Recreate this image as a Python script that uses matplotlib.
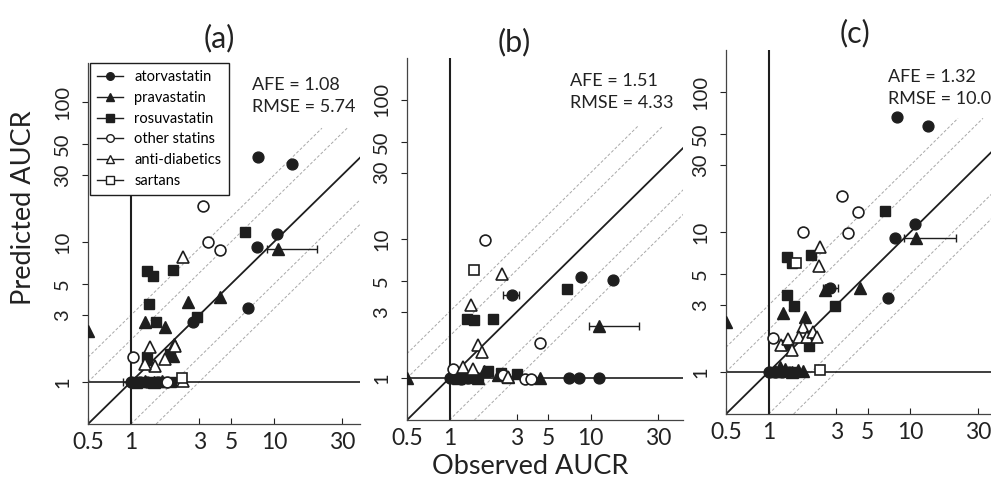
import matplotlib
import matplotlib.pyplot as plt
from matplotlib.lines import Line2D

matplotlib.use('Agg')

plt.rcParams['font.family'] = ['Lato', 'DejaVu Sans']

INK = '#1e1e1e'
W_PX, H_PX = 991, 480

# ---- panel (a) ----
a_ator_x = [7.7, 13.4, 10.5, 7.6, 6.6, 2.7, 1.0, 1.15, 1.3, 1.55]
a_ator_y = [40.5, 36.0, 11.4, 9.2, 3.4, 2.7, 1.0, 1.0, 0.99, 1.0]
a_prav_x = [0.5, 10.7, 4.2, 2.5, 1.25, 1.73, 2.0, 1.97, 1.29, 1.08, 1.25, 1.45, 1.65]
a_prav_y = [2.3, 8.9, 4.05, 3.7, 2.7, 2.47, 1.87, 1.53, 1.46, 1.0, 1.02, 1.0, 1.02]
a_rosu_x = [6.27, 1.30, 1.42, 1.97, 1.34, 1.5, 2.9, 1.87, 1.29, 1.05, 1.2, 1.4, 1.6, 1.9]
a_rosu_y = [11.8, 6.2, 5.7, 6.3, 3.6, 2.7, 2.9, 1.58, 1.5, 1.0, 1.0, 1.0, 1.0, 1.0]
a_other_x = [3.2, 3.45, 4.2, 1.03, 1.79]
a_other_y = [18.1, 10.0, 8.8, 1.5, 1.0]
a_anti_x = [2.31, 1.36, 2.03, 1.73, 1.47, 2.31, 1.25]
a_anti_y = [7.8, 1.78, 1.81, 1.46, 1.3, 1.02, 1.35]
a_sart_x = [2.27]
a_sart_y = [1.06]

# ---- panel (b) ----
b_ator_x = [2.75, 8.5, 14.3, 7.0, 8.2, 11.4, 1.0, 1.1, 1.2, 1.35]
b_ator_y = [3.95, 5.3, 5.1, 1.0, 1.0, 1.0, 1.0, 1.0, 0.99, 1.0]
b_prav_x = [0.5, 11.4, 4.4, 1.15, 1.3, 1.6, 1.75, 2.2, 2.6]
b_prav_y = [1.0, 2.37, 1.0, 1.0, 1.02, 1.0, 1.12, 1.05, 1.02]
b_rosu_x = [1.32, 1.50, 2.02, 6.75, 3.0, 1.86, 1.05, 1.25, 1.6, 2.3]
b_rosu_y = [2.66, 2.6, 2.66, 4.4, 1.07, 1.12, 1.0, 1.0, 1.0, 1.08]
b_other_x = [1.77, 4.4, 1.05, 2.4, 3.45, 3.75]
b_other_y = [9.8, 1.78, 1.16, 1.05, 0.98, 0.98]
b_anti_x = [2.34, 1.43, 1.58, 1.71, 1.24, 1.47, 2.6]
b_anti_y = [5.6, 3.35, 1.74, 1.54, 1.2, 1.16, 1.02]
b_sart_x = [1.50]
b_sart_y = [6.0]

# ---- panel (c) ----
c_ator_x = [8.1, 13.4, 10.8, 7.8, 6.9, 2.69, 1.0, 1.1, 1.25, 1.4]
c_ator_y = [66.0, 57.0, 11.4, 9.1, 3.4, 4.0, 1.0, 1.0, 1.0, 1.0]
c_prav_x = [0.5, 11.0, 2.48, 4.4, 1.27, 1.79, 2.07, 1.1, 1.2, 1.3, 1.45, 1.6, 1.75]
c_prav_y = [2.27, 9.1, 3.85, 4.0, 2.64, 2.47, 1.9, 1.02, 1.08, 1.05, 1.0, 1.04, 1.02]
c_rosu_x = [6.6, 1.34, 1.45, 1.98, 1.34, 1.52, 2.96, 1.34, 1.91, 1.05, 1.2, 1.5]
c_rosu_y = [14.1, 6.6, 6.0, 6.85, 3.55, 2.96, 2.96, 1.56, 1.53, 1.0, 1.0, 1.0]
c_other_x = [3.3, 4.3, 1.76, 3.6, 1.07]
c_other_y = [18.1, 13.9, 10.0, 9.8, 1.75]
c_anti_x = [2.32, 2.28, 1.76, 1.63, 1.85, 2.07, 2.18, 1.23, 1.38, 1.45]
c_anti_y = [7.8, 5.7, 2.1, 1.78, 1.78, 1.93, 1.78, 1.56, 1.72, 1.44]
c_sart_x = [1.55, 2.32]
c_sart_y = [6.0, 1.03]

# horizontal error bars: x, y, low, high
a_err_x = [10.7, 1.0]
a_err_y = [8.9, 1.0]
a_err_lo = [8.9, 0.88]
a_err_hi = [20.0, 1.1]
b_err_x = [11.4, 2.75]
b_err_y = [2.37, 3.95]
b_err_lo = [9.7, 2.4]
b_err_hi = [22.0, 3.1]
c_err_x = [11.0, 2.69]
c_err_y = [9.1, 4.0]
c_err_lo = [9.0, 2.4]
c_err_hi = [21.0, 3.1]

labels = ['atorvastatin', 'pravastatin', 'rosuvastatin', 'other statins', 'anti-diabetics', 'sartans']
afe = ['1.08', '1.51', '1.32']
rmse = ['5.74', '4.33', '10.0']
x_ticks = [0.5, 1, 3, 5, 10, 30]
y_ticks = [1, 3, 5, 10, 30, 50, 100]

styles = [
    dict(marker='o', ms=7.8, mfc=INK, mec=INK),
    dict(marker='^', ms=8.8, mfc=INK, mec=INK),
    dict(marker='s', ms=7.8, mfc=INK, mec=INK),
    dict(marker='o', ms=7.8, mfc='white', mec=INK, mew=1.2),
    dict(marker='^', ms=8.8, mfc='white', mec=INK, mew=1.2),
    dict(marker='s', ms=7.8, mfc='white', mec=INK, mew=1.2),
]


def px_rect(left, bottom, width, height):
    return [left / W_PX, 1 - bottom / H_PX, width / W_PX, height / H_PX]


def draw_panel(ax, xlim, ylim, series, err):
    ax.set_xscale('log')
    ax.set_yscale('log')
    ax.set_xlim(*xlim)
    ax.set_ylim(*ylim)
    for f in [2, 3]:
        ax.plot([0.5, 65 / f], [0.5 * f, 65], ls=(0, (3, 2)), color='#a8a8a8', lw=0.7, zorder=1)
        ax.plot([0.5 * f, 60], [0.5, 60 / f], ls=(0, (3, 2)), color='#a8a8a8', lw=0.7, zorder=1)
    ax.plot([0.5, 60], [0.5, 60], color=INK, lw=1.3, zorder=2)
    ax.axvline(1, color=INK, lw=1.5, zorder=2)
    ax.axhline(1, color=INK, lw=1.2, zorder=2)
    ex, ey, elo, ehi = err
    ax.errorbar(ex, ey, xerr=[[x - lo for x, lo in zip(ex, elo)], [hi - x for x, hi in zip(ex, ehi)]],
                fmt='none', ecolor=INK, elinewidth=1.0, capsize=3, zorder=3)
    for (xs, ys), st in zip(series, styles):
        ax.plot(xs, ys, ls='none', zorder=4, **st)
    for side in ['top', 'right']:
        ax.spines[side].set_visible(False)
    for side in ['left', 'bottom']:
        ax.spines[side].set_color('#444444')
        ax.spines[side].set_linewidth(0.9)
    ax.set_xticks(x_ticks)
    ax.set_xticklabels([str(t) for t in x_ticks])
    ax.set_yticks(y_ticks)
    ax.set_yticklabels([str(t) for t in y_ticks], rotation=90, va='center')
    ax.minorticks_off()
    ax.tick_params(axis='x', direction='in', length=4, pad=6, labelsize=16.5, colors='#222222')
    ax.tick_params(axis='y', direction='out', length=4, pad=8, labelsize=14.5, colors='#222222')
    ax.patch.set_alpha(0)


fig = plt.figure(figsize=(9.91, 4.8), dpi=100)
ax_a = fig.add_axes(px_rect(88, 424, 272, 361))
ax_b = fig.add_axes(px_rect(407, 420, 276, 362))
ax_c = fig.add_axes(px_rect(726, 414, 277, 364))

draw_panel(ax_a, (0.5, 40), (0.5, 190),
           [(a_ator_x, a_ator_y), (a_prav_x, a_prav_y), (a_rosu_x, a_rosu_y),
            (a_other_x, a_other_y), (a_anti_x, a_anti_y), (a_sart_x, a_sart_y)],
           (a_err_x, a_err_y, a_err_lo, a_err_hi))
draw_panel(ax_b, (0.5, 45), (0.5, 200),
           [(b_ator_x, b_ator_y), (b_prav_x, b_prav_y), (b_rosu_x, b_rosu_y),
            (b_other_x, b_other_y), (b_anti_x, b_anti_y), (b_sart_x, b_sart_y)],
           (b_err_x, b_err_y, b_err_lo, b_err_hi))
draw_panel(ax_c, (0.5, 45), (0.5, 200),
           [(c_ator_x, c_ator_y), (c_prav_x, c_prav_y), (c_rosu_x, c_rosu_y),
            (c_other_x, c_other_y), (c_anti_x, c_anti_y), (c_sart_x, c_sart_y)],
           (c_err_x, c_err_y, c_err_lo, c_err_hi))

handles = [Line2D([], [], color=INK, lw=1.0, marker=st['marker'], ms=st['ms'] * 0.7,
                  mfc=st['mfc'], mec=st['mec'], mew=1.0) for st in styles]
leg = ax_a.legend(handles, labels, loc='upper left', bbox_to_anchor=(0.007, 1.0), borderaxespad=0,
                  fontsize=10.5, frameon=True, fancybox=False, framealpha=1, edgecolor=INK,
                  handlelength=1.8, labelspacing=0.46, handletextpad=0.75, borderpad=0.5)
leg.get_frame().set_linewidth(1.0)
leg.set_zorder(10)

# panel letters and statistics
for name, x, y in [('(a)', 219, 38), ('(b)', 514, 42), ('(c)', 855, 33)]:
    fig.text(x / W_PX, 1 - y / H_PX, name, ha='center', va='center', fontsize=22, color='#222222')
for i, (x, y) in enumerate([(252, 85), (570, 81), (888, 77)]):
    fig.text(x / W_PX, 1 - y / H_PX, f'AFE = {afe[i]}', ha='left', va='center', fontsize=13, color='#222222')
    fig.text(x / W_PX, 1 - (y + 22) / H_PX, f'RMSE = {rmse[i]}', ha='left', va='center', fontsize=13,
             color='#222222')

fig.text(24 / W_PX, 1 - 208 / H_PX, 'Predicted AUCR', rotation=90, ha='center', va='center', fontsize=19.5,
         color='#222222')
fig.text(530 / W_PX, 1 - 467 / H_PX, 'Observed AUCR', ha='center', va='center', fontsize=19.5, color='#222222')

plt.savefig('out.png', dpi=100)
plt.close(fig)
